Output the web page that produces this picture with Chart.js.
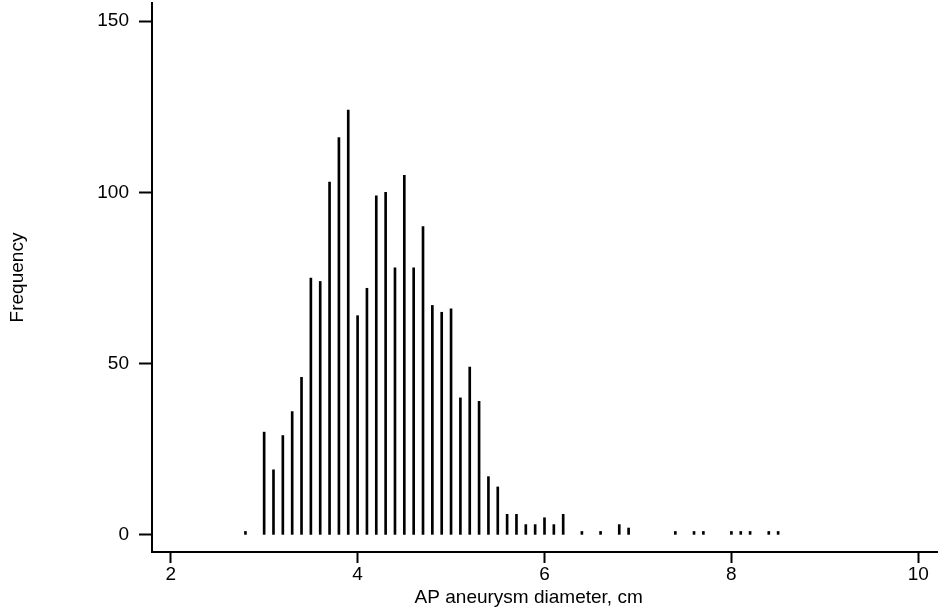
<!DOCTYPE html>
<html>
<head>
<meta charset="utf-8">
<script src="https://cdn.jsdelivr.net/npm/chart.js@4/dist/chart.umd.min.js"></script>
<style>
  html, body { margin: 0; padding: 0; background: #fff; }
</style>
</head>
<body>
<canvas id="histChart" width="938" height="613"></canvas>
<script>
// AP aneurysm diameter (cm) and number of patients at each value
var diameters = [2.8, 3.0, 3.1, 3.2, 3.3, 3.4, 3.5, 3.6, 3.7, 3.8, 3.9,
                 4.0, 4.1, 4.2, 4.3, 4.4, 4.5, 4.6, 4.7, 4.8, 4.9,
                 5.0, 5.1, 5.2, 5.3, 5.4, 5.5, 5.6, 5.7, 5.8, 5.9,
                 6.0, 6.1, 6.2, 6.4, 6.6, 6.8, 6.9,
                 7.4, 7.6, 7.7, 8.0, 8.1, 8.2, 8.4, 8.5];
var frequency = [1, 30, 19, 29, 36, 46, 75, 74, 103, 116, 124,
                 64, 72, 99, 100, 78, 105, 78, 90, 67, 65,
                 66, 40, 49, 39, 17, 14, 6, 6, 3, 3,
                 5, 3, 6, 1, 1, 3, 2,
                 1, 1, 1, 1, 1, 1, 1, 1];
var xTicks = [2, 4, 6, 8, 10];
var yTicks = [0, 50, 100, 150];

(function(){
    var ctx = document.getElementById('histChart').getContext('2d');
    var font = { family: '"Liberation Sans", Arial, sans-serif', size: 19 };

    var points = diameters.map(function(d, i){ return { x: d, y: frequency[i] }; });

    new Chart(ctx, {
        type: 'bar',
        data: {
            datasets: [{
                data: points,
                backgroundColor: '#000',
                borderWidth: 0,
                barThickness: 2
            }]
        },
        options: {
            responsive: false,
            animation: false,
            layout: { padding: { top: 3, right: 1, left: 0, bottom: 0 } },
            plugins: { legend: { display: false }, tooltip: { enabled: false } },
            scales: {
                x: {
                    type: 'linear',
                    min: 1.8,
                    max: 10.2,
                    offset: false,
                    afterBuildTicks: function(s){ s.ticks = xTicks.map(function(v){ return { value: v }; }); },
                    afterFit: function(s){ s.height = 61; s.paddingLeft = 0; s.paddingRight = 0; },
                    border: { display: true, color: '#000', width: 2 },
                    grid: { drawOnChartArea: false, drawTicks: true, tickLength: 11, tickColor: '#000', tickWidth: 2, offset: false },
                    ticks: { color: '#000', font: font, padding: 0, maxRotation: 0 },
                    title: {
                        display: true,
                        // trailing spaces shift the centred title a bit left, as in the original
                        text: 'AP aneurysm diameter, cm      ',
                        color: '#000',
                        font: font,
                        padding: { top: 0, bottom: 4 }
                    }
                },
                y: {
                    min: -5,
                    max: 155.3,
                    afterBuildTicks: function(s){ s.ticks = yTicks.map(function(v){ return { value: v }; }); },
                    afterFit: function(s){ s.width = 152; s.paddingTop = 0; s.paddingBottom = 0; },
                    border: { display: true, color: '#000', width: 2 },
                    grid: { drawOnChartArea: false, drawTicks: true, tickLength: 13, tickColor: '#000', tickWidth: 2 },
                    ticks: { color: '#000', font: font, padding: 10 },
                    title: {
                        display: true,
                        text: 'Frequency',
                        color: '#000',
                        font: font,
                        padding: { top: 6, bottom: 0 }
                    }
                }
            }
        }
    });
})();
</script>
</body>
</html>
